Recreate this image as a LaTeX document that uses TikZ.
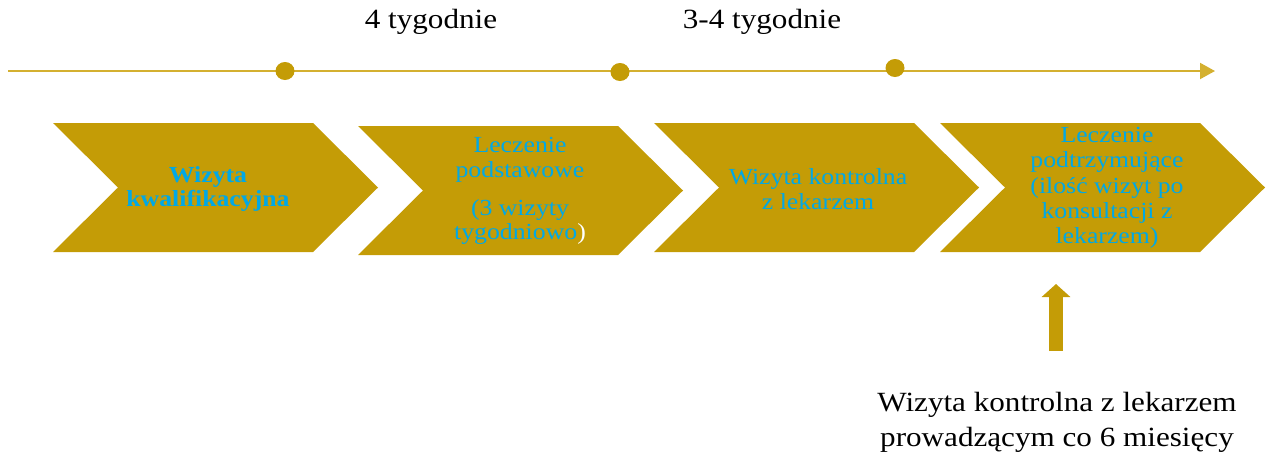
\documentclass[tikz,border=0pt]{standalone}
\usepackage{fontspec}
\setmainfont{Liberation Serif}[FakeStretch=1.12]
\usetikzlibrary{arrows.meta}
\definecolor{gold}{RGB}{196,156,6}
\definecolor{goldline}{RGB}{212,176,48}
\definecolor{cyantext}{RGB}{0,168,230}
\tikzset{
  chev/.style={fill=gold},
  chevtext/.style={text=cyantext, align=center, font=\fontsize{23}{24.5}\selectfont},
  dur/.style={font=\fontsize{27.8}{30}\selectfont},
  dot/.style={fill=gold},
}
\begin{document}
\begin{tikzpicture}[x=1pt,y=1pt]
\useasboundingbox (0,0) rectangle (1266,-453);
% timeline
\coordinate (tl0) at (8,-71);
\coordinate (tl1) at (1215,-71);
\draw[goldline, line width=2, -{Triangle[width=16,length=15]}] (tl0) -- (tl1);
\fill[dot] (285,-71) ellipse (9.5 and 9);
\fill[dot] (620,-72) ellipse (9.5 and 9);
\fill[dot] (895,-68) ellipse (9.5 and 9);
\node[dur] (d1) at (431,-22) {4 tygodnie};
\node[dur] (d2) at (762,-22) {3-4 tygodnie};
% chevrons
\fill[chev] (53,-123) -- (313,-123) -- (378,-187.5) -- (313,-252) -- (53,-252) -- (118,-187.5) -- cycle;
\fill[chev] (358,-126) -- (618,-126) -- (683,-190.5) -- (618,-255) -- (358,-255) -- (423,-190.5) -- cycle;
\fill[chev] (654,-123) -- (914,-123) -- (979,-187.5) -- (914,-252) -- (654,-252) -- (719,-187.5) -- cycle;
\fill[chev] (940,-123) -- (1200,-123) -- (1265,-187.5) -- (1200,-252) -- (940,-252) -- (1005,-187.5) -- cycle;
\node[chevtext, font=\fontsize{23}{24.5}\selectfont\bfseries] (c1) at (208,-189) {Wizyta\\kwalifikacyjna};
\node[chevtext] (c2a) at (520,-160) {Leczenie\\podstawowe};
\node[chevtext] (c2b) at (520,-222) {(3 wizyty\\tygodniowo\textcolor{white}{)}};
\node[chevtext] (c3) at (818,-189) {Wizyta kontrolna\\z lekarzem};
\node[chevtext, font=\fontsize{23}{25.2}\selectfont] (c4) at (1107,-188) {Leczenie\\podtrzymujące\\(ilość wizyt po\\konsultacji z\\lekarzem)};
% bottom note and arrow
\node[dur, align=center, font=\fontsize{27.8}{35}\selectfont] (note) at (1057,-422) {Wizyta kontrolna z lekarzem\\prowadzącym co 6 miesięcy};
\coordinate (ab) at (1056,-351);
\coordinate (at) at (1056,-284);
\draw[gold, line width=14, -{Triangle[width=28,length=13]}] (ab) -- (at);
\end{tikzpicture}
\end{document}
